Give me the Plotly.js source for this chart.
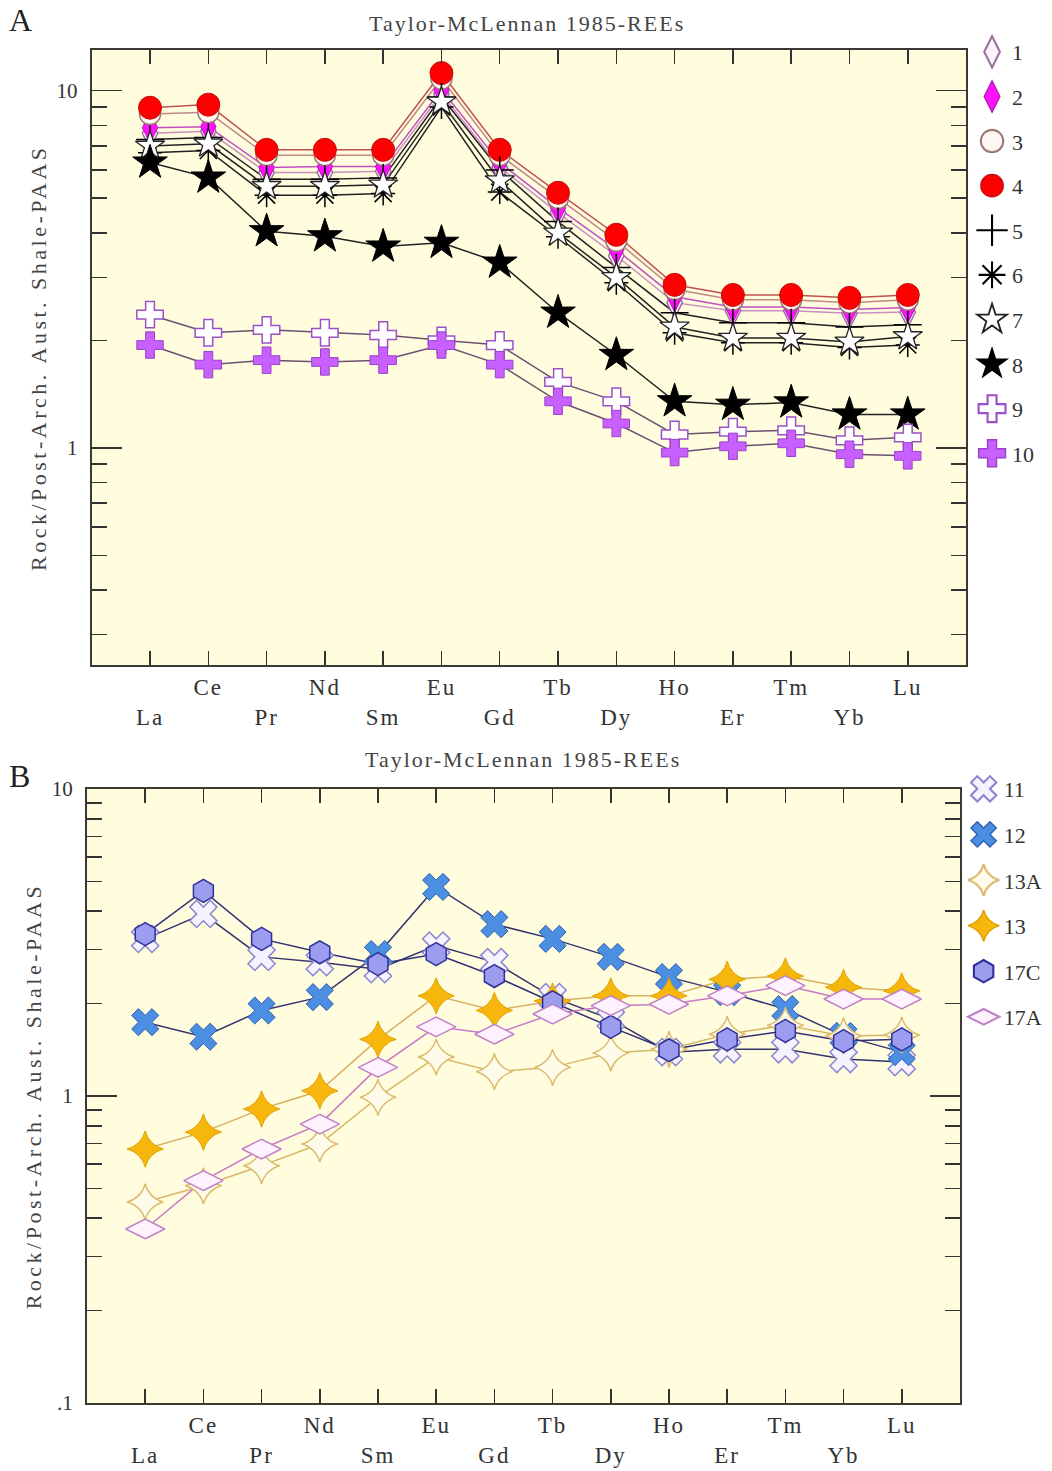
<!DOCTYPE html>
<html><head><meta charset="utf-8">
<script src="https://cdn.plot.ly/plotly-3.0.1.min.js"></script>
<style>
html,body{margin:0;padding:0;background:#fff;}
#chart{width:1052px;height:1471px;}
#chart .ytitle, #chart .y2title{letter-spacing:3.5px;}
#chart .annotation-text{letter-spacing:2px;}
#chart .xtick text, #chart .x2tick text{letter-spacing:2px;}
</style>
</head><body><div id="chart"></div>
<script>
// ---- data ----
const elements = ['La','Ce','Pr','Nd','Sm','Eu','Gd','Tb','Dy','Ho','Er','Tm','Yb','Lu'];
const namesA = ['1','2','3','4','5','6','7','8','9','10'];
const s1  = [7.6, 7.7, 5.9, 5.9, 5.95, 9.8, 6.1, 4.55, 3.45, 2.55, 2.42, 2.42, 2.38, 2.40];
const s2  = [7.88, 7.93, 6.09, 6.13, 6.13, 10.06, 6.29, 4.70, 3.59, 2.65, 2.48, 2.48, 2.44, 2.47];
const s3  = [8.6, 8.7, 6.6, 6.6, 6.6, 10.8, 6.6, 5.0, 3.8, 2.78, 2.60, 2.60, 2.55, 2.60];
const s4  = [8.96, 9.14, 6.83, 6.83, 6.83, 11.2, 6.83, 5.18, 3.95, 2.86, 2.68, 2.68, 2.63, 2.68];
const s5  = [7.3, 7.4, 5.65, 5.65, 5.7, 9.6, 6.0, 4.3, 3.2, 2.39, 2.24, 2.24, 2.18, 2.21];
const s6  = [6.7, 6.8, 5.1, 5.1, 5.15, 9.0, 5.2, 3.9, 2.9, 2.10, 1.97, 1.97, 1.91, 1.94];
const s7  = [7.0, 7.1, 5.4, 5.4, 5.45, 9.3, 5.6, 4.0, 3.0, 2.18, 2.03, 2.03, 1.98, 2.05];
const s8  = [6.29, 5.71, 4.04, 3.91, 3.66, 3.75, 3.30, 2.39, 1.82, 1.35, 1.32, 1.34, 1.24, 1.24];
const s9  = [2.36, 2.10, 2.14, 2.10, 2.07, 2.00, 1.94, 1.53, 1.35, 1.09, 1.11, 1.12, 1.05, 1.07];
const s10 = [1.94, 1.71, 1.76, 1.74, 1.76, 1.94, 1.71, 1.35, 1.17, 0.97, 1.01, 1.03, 0.96, 0.95];

const namesB = ['11','12','13A','13','17C','17A'];
const s11  = [3.25, 3.92, 2.84, 2.73, 2.59, 3.09, 2.73, 2.10, 1.78, 1.39, 1.42, 1.42, 1.32, 1.29];
const s12  = [1.74, 1.56, 1.90, 2.10, 2.90, 4.80, 3.63, 3.25, 2.84, 2.44, 2.18, 1.92, 1.57, 1.39];
const s13A = [0.452, 0.510, 0.593, 0.698, 0.99, 1.34, 1.20, 1.24, 1.38, 1.42, 1.59, 1.70, 1.57, 1.58];
const s13  = [0.672, 0.763, 0.907, 1.04, 1.53, 2.12, 1.90, 2.04, 2.12, 2.12, 2.40, 2.46, 2.26, 2.20];
const s17C = [3.37, 4.66, 3.25, 2.94, 2.69, 2.90, 2.46, 2.02, 1.68, 1.41, 1.53, 1.63, 1.51, 1.53];
const s17A = [0.369, 0.530, 0.672, 0.81, 1.24, 1.68, 1.59, 1.85, 1.97, 1.99, 2.12, 2.29, 2.07, 2.07];

const majorA = [1, 10], majorAText = ['1', '10'];
const majorB = [0.1, 1, 10], majorBText = ['.1', '1', '10'];
const minorA = [0.3,0.4,0.5,0.6,0.7,0.8,0.9,2,3,4,5,6,7,8,9];
const minorB = [0.2,0.3,0.4,0.5,0.6,0.7,0.8,0.9,2,3,4,5,6,7,8,9];
const chartTitle = 'Taylor-McLennan 1985-REEs';
const yTitle = 'Rock/Post-Arch. Aust. Shale-PAAS';

// ---- styles ----
const seriesA = [s1,s2,s3,s4,s5,s6,s7,s8,s9,s10];
const stylesA = [
  {sym:'diamond-tall', size:22, fill:'#fcf4fc', ml:'#a070a0', mw:1.5, lc:'#c890c0'},
  {sym:'diamond-tall', size:22, fill:'#ff10ff', ml:'#b020b0', mw:1, lc:'#c050c0'},
  {sym:'circle', size:21, fill:'#fff6f4', ml:'#a07878', mw:1.5, lc:'#c08888'},
  {sym:'circle', size:23, fill:'#ff0000', ml:'#c01010', mw:1, lc:'#c05050'},
  {sym:'cross-thin-open', size:20, fill:'#000', ml:'#111', mw:1.5, lc:'#222'},
  {sym:'asterisk-open', size:20, fill:'#000', ml:'#111', mw:1.5, lc:'#222'},
  {sym:'star', size:22, fill:'#ffffff', ml:'#222', mw:1.3, lc:'#222'},
  {sym:'star', size:26, fill:'#000000', ml:'#000', mw:1, lc:'#222'},
  {sym:'cross', size:22, fill:'#ffffff', ml:'#9a50c8', mw:1.5, lc:'#6a5070'},
  {sym:'cross', size:22, fill:'#c860ff', ml:'#9a40c8', mw:1, lc:'#6a5070'}
];
const seriesB = [s11,s12,s13A,s13,s17C,s17A];
const stylesB = [
  {sym:'x', size:24, fill:'#f6f2ff', ml:'#8a86d0', mw:1.5, lc:'#34346e'},
  {sym:'x', size:24, fill:'#4c8fe2', ml:'#3060b0', mw:1, lc:'#34346e'},
  {sym:'star-diamond', size:26, fill:'#fffbea', ml:'#dcbc6c', mw:1.5, lc:'#d8b868'},
  {sym:'star-diamond', size:26, fill:'#f6b60c', ml:'#e0a000', mw:1, lc:'#d8b060'},
  {sym:'hexagon', size:23, fill:'#9d9df0', ml:'#30309a', mw:1.5, lc:'#303078'},
  {sym:'diamond-wide', size:28, fill:'#fff2ff', ml:'#c080c8', mw:1.5, lc:'#c878c8'}
];

const serif = 'Liberation Serif, Times New Roman, serif';
const lineTraces = [], markerTraces = [];
function addSeries(series, styles, names, xa, ya, leg, grp) {
  series.forEach((ys, i) => {
    const st = styles[i];
    lineTraces.push({type:'scatter', mode:'lines', x:elements, y:ys, name:names[i],
      xaxis:xa, yaxis:ya, showlegend:false, line:{color:st.lc, width:1.5}});
    markerTraces.push({type:'scatter', mode:'markers', x:elements, y:ys, name:names[i],
      xaxis:xa, yaxis:ya, legend:leg, legendgroup:grp + i,
      marker:{symbol:st.sym, size:st.size, color:st.fill, line:{color:st.ml, width:st.mw}}});
  });
}
addSeries(seriesA, stylesA, namesA, 'x', 'y', 'legend', 'a');
addSeries(seriesB, stylesB, namesB, 'x2', 'y2', 'legend2', 'b');
const traces = lineTraces.concat(markerTraces);

const tickText = elements.map((e, i) => i % 2 === 0 ? '<br>' + e : e);
const tickFont = {family:serif, size:23, color:'#333'};
function xAxis(domain, anchor) {
  return {domain, anchor, type:'category', range:[-1, 14], tickmode:'array',
    tickvals:elements, ticktext:tickText, tickangle:0, ticks:'inside', ticklen:14,
    tickwidth:1.5, tickcolor:'#333', showline:true, linewidth:2, linecolor:'#3a3a32',
    mirror:'ticks', showgrid:false, zeroline:false, tickfont:tickFont, fixedrange:true};
}
function yAxis(domain, anchor, range, vals, text, minor) {
  return {domain, anchor, type:'log', range, tickmode:'array', tickvals:vals, ticktext:text,
    ticks:'inside', ticklen:30, tickwidth:1.5, tickcolor:'#333', showline:true, linewidth:2,
    linecolor:'#3a3a32', mirror:'ticks', showgrid:false, zeroline:false,
    ticklabelstandoff:8,
    tickfont:{family:serif, size:21, color:'#333'},
    minor:{tickmode:'array', tickvals:minor, ticks:'inside', ticklen:15, tickwidth:1.5, tickcolor:'#333', showgrid:false},
    title:{text:yTitle, font:{family:serif, size:22, color:'#444'}, standoff:4}};
}
const legendBase = {xanchor:'left', yanchor:'top', bgcolor:'rgba(0,0,0,0)', borderwidth:0,
  font:{family:serif, size:22, color:'#333'}, itemsizing:'trace'};

const layout = {
  width:1052, height:1471, margin:{l:0, r:0, t:0, b:0, autoexpand:false},
  paper_bgcolor:'#ffffff', plot_bgcolor:'#fffddd', showlegend:true,
  xaxis: xAxis([0.0872, 0.9183], 'y'),
  yaxis: yAxis([0.5479, 0.9657], 'x', [Math.log10(0.2466), Math.log10(12.96)], majorA, majorAText, minorA),
  xaxis2: xAxis([0.0827, 0.9125], 'y2'),
  yaxis2: yAxis([0.0462, 0.4636], 'x2', [-1, 1], majorB, majorBText, minorB),
  legend: Object.assign({}, legendBase, {x:0.924, y:0.9789, tracegroupgap:13}),
  legend2: Object.assign({}, legendBase, {x:0.916, y:0.4779, tracegroupgap:14}),
  annotations: [
    {text:chartTitle, xref:'paper', yref:'paper', x:0.501, y:1 - 23/1471, xanchor:'center', yanchor:'middle', showarrow:false, font:{family:serif, size:22, color:'#444'}},
    {text:chartTitle, xref:'paper', yref:'paper', x:0.497, y:1 - 760/1471, xanchor:'center', yanchor:'middle', showarrow:false, font:{family:serif, size:22, color:'#444'}},
    {text:'A', xref:'paper', yref:'paper', x:8/1052, y:1 - 20/1471, xanchor:'left', yanchor:'middle', showarrow:false, font:{family:serif, size:32, color:'#222'}},
    {text:'B', xref:'paper', yref:'paper', x:8/1052, y:1 - 776/1471, xanchor:'left', yanchor:'middle', showarrow:false, font:{family:serif, size:32, color:'#222'}}
  ]
};

Plotly.newPlot('chart', traces, layout, {displayModeBar:false, staticPlot:true}).then(gd => {
  // enlarge legend symbols (Plotly caps them at 16px)
  gd.querySelectorAll('.legendpoints path.scatterpts').forEach(p => {
    const t = p.getAttribute('transform') || '';
    if (t.indexOf('scale') < 0) p.setAttribute('transform', t + ' scale(1.4)');
  });
});
</script>
</body></html>
